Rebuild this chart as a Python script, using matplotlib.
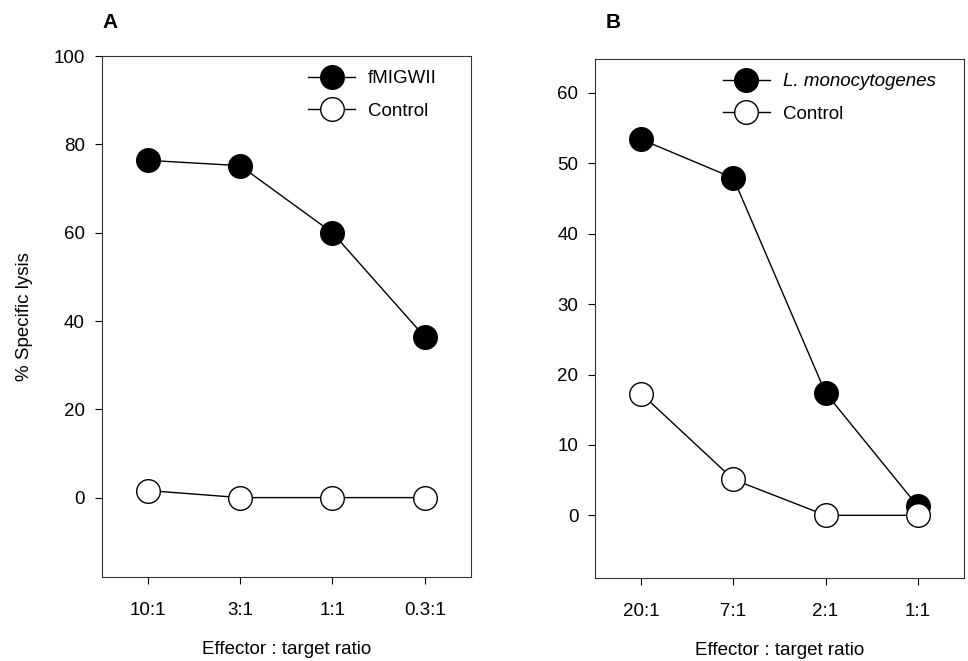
import matplotlib
matplotlib.use("Agg")
import matplotlib.pyplot as plt

plt.rcParams['font.family'] = ['Liberation Sans', 'DejaVu Sans']

# Panel A: fMIGWII-specific lysis
ratios_a = ["10:1", "3:1", "1:1", "0.3:1"]
fmigwii = [76.4, 75.2, 60.0, 36.4]
control_a = [1.6, 0.0, 0.0, 0.0]

# Panel B: L. monocytogenes-specific lysis
ratios_b = ["20:1", "7:1", "2:1", "1:1"]
listeria = [53.4, 47.9, 17.4, 1.3]
control_b = [17.3, 5.1, 0.0, 0.0]

FS = 13.5
fig = plt.figure(figsize=(9.68, 6.61), dpi=100)
ax_a = fig.add_axes([0.105, 0.127, 0.3815, 0.788])
ax_b = fig.add_axes([0.6147, 0.1256, 0.381, 0.785])


def draw_panel(ax, cats, filled, open_, filled_label, ylim, yticks, legend_x):
    x = list(range(len(cats)))
    ax.plot(x, filled, color='black', lw=1.0, marker='o', ms=17,
            mfc='black', mec='black', mew=1.0, label=filled_label, zorder=3)
    ax.plot(x, open_, color='black', lw=1.0, marker='o', ms=17,
            mfc='white', mec='black', mew=1.0, label='Control', zorder=4)
    ax.set_xlim(-0.5, len(cats) - 0.5)
    ax.set_ylim(*ylim)
    ax.set_xticks(x)
    ax.set_xticklabels(cats)
    ax.set_yticks(yticks)
    ax.tick_params(axis='both', direction='out', length=5, width=0.8,
                   labelsize=FS, top=False, right=False)
    ax.tick_params(axis='x', pad=13)
    ax.tick_params(axis='y', pad=7)
    for s in ax.spines.values():
        s.set_linewidth(0.8)
        s.set_color('#333333')
    ax.set_xlabel('Effector : target ratio', fontsize=FS, labelpad=16)
    leg = ax.legend(loc='upper left', bbox_to_anchor=(legend_x, 0.973),
                    frameon=False, fontsize=FS, handlelength=2.5,
                    handletextpad=0.7, labelspacing=0.83, borderpad=0,
                    borderaxespad=0)
    return leg


draw_panel(ax_a, ratios_a, fmigwii, control_a, 'fMIGWII',
           (-18, 100), [0, 20, 40, 60, 80, 100], 0.559)
ax_a.set_ylabel('% Specific lysis', fontsize=FS, labelpad=15)

leg_b = draw_panel(ax_b, ratios_b, listeria, control_b, 'L. monocytogenes',
                   (-8.9, 64.8), [0, 10, 20, 30, 40, 50, 60], 0.347)
leg_b.get_texts()[0].set_style('italic')

fig.text(110 / 968, 1 - 23 / 661, 'A', fontsize=15, fontweight='bold',
         ha='center', va='center')
fig.text(613 / 968, 1 - 23 / 661, 'B', fontsize=15, fontweight='bold',
         ha='center', va='center')

fig.savefig('out.png', dpi=100)
